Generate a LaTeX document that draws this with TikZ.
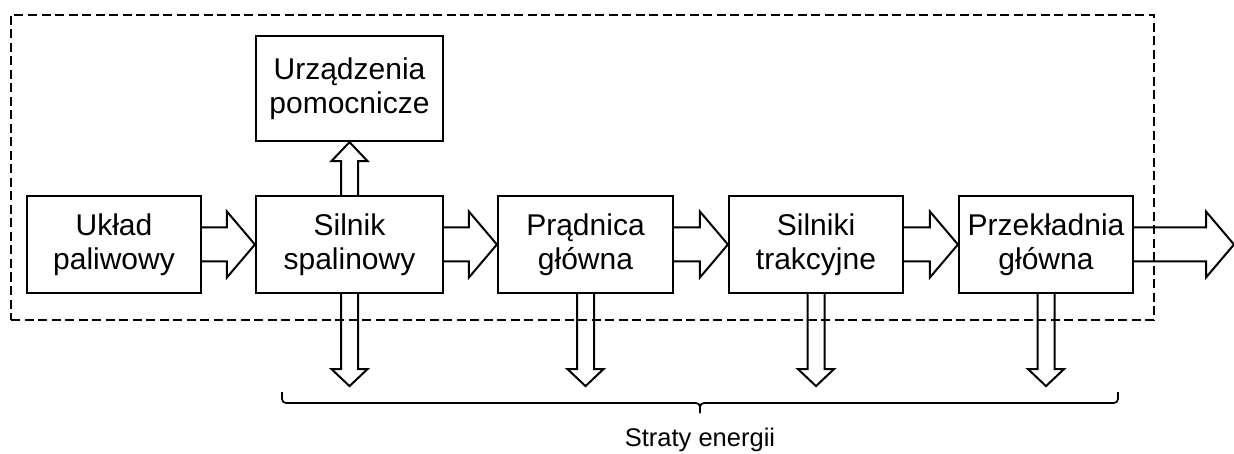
\documentclass[tikz,border=0pt]{standalone}
\usepackage{fontspec}
\setmainfont{Liberation Sans}
\usetikzlibrary{calc}

% hollow block arrows between blocks
\newcommand\rarrowblk[2]{%
  \draw[fat] let \p1=(#1.east), \p2=(#2) in
    (\x1,\y2+17) -- (\x2-28,\y2+17) -- (\x2-28,\y2+33) -- (\x2,\y2)
    -- (\x2-28,\y2-33) -- (\x2-28,\y2-17) -- (\x1,\y2-17);}
\newcommand\darrowblk[2]{%
  \draw[fat] let \p1=(#1.south), \p2=(#2) in
    (\x2-8.5,\y1) -- (\x2-8.5,\y2+17) -- (\x2-18,\y2+17) -- (\x2,\y2)
    -- (\x2+18,\y2+17) -- (\x2+8.5,\y2+17) -- (\x2+8.5,\y1);}
\newcommand\uarrowblk[2]{%
  \draw[fat] let \p1=(#1.north), \p2=(#2.south) in
    (\x1-8.5,\y1) -- (\x1-8.5,\y2-19) -- (\x1-18,\y2-19) -- (\x1,\y2)
    -- (\x1+18,\y2-19) -- (\x1+8.5,\y2-19) -- (\x1+8.5,\y1);}

\begin{document}
\begin{tikzpicture}[x=1pt,y=-1pt,
  block/.style={draw, line width=2.2pt, minimum height=97pt, align=center,
    inner sep=0pt, font=\fontsize{30}{34}\selectfont},
  fat/.style={draw, line width=2pt, line join=miter},
  frame/.style={draw, line width=2pt, dash pattern=on 9pt off 4.5pt,
    inner sep=0pt},
  bracket/.style={draw, line width=1.7pt, rounded corners=4pt},
]
\useasboundingbox (0,0) rectangle (1234,454);

% blocks
\node[block, minimum width=174pt] (fuel) at (114,244.5) {Układ\\paliwowy};
\node[block, minimum width=187pt] (engine) at (349.5,244.5) {Silnik\\spalinowy};
\node[block, minimum width=187pt, minimum height=105pt] (aux) at (349.5,88.5) {Urządzenia\\pomocnicze};
\node[block, minimum width=175pt] (gen) at (585.5,244.5) {Prądnica\\główna};
\node[block, minimum width=174pt] (motors) at (816,244.5) {Silniki\\trakcyjne};
\node[block, minimum width=174pt] (gear) at (1046,244.5) {Przekładnia\\główna};

% power flow
\coordinate (out) at (1234,244.5);
\rarrowblk{fuel}{fuel.east -| engine.west}
\rarrowblk{engine}{engine.east -| gen.west}
\rarrowblk{gen}{gen.east -| motors.west}
\rarrowblk{motors}{motors.east -| gear.west}
\rarrowblk{gear}{out}
\uarrowblk{engine}{aux}

% losses
\coordinate (loss1) at ($(engine.south)+(0,92)$);
\coordinate (loss2) at ($(gen.south)+(0,92)$);
\coordinate (loss3) at ($(motors.south)+(0,92)$);
\coordinate (loss4) at ($(gear.south)+(0,92)$);
\darrowblk{engine}{loss1}
\darrowblk{gen}{loss2}
\darrowblk{motors}{loss3}
\darrowblk{gear}{loss4}

% system boundary
\node[frame, minimum width=1143pt, minimum height=305pt] (system) at (582.5,167.5) {};

% bracket collecting the losses
\coordinate (bl) at (282,392);
\coordinate (br) at (1118,392);
\coordinate (bm) at (700,413);
\draw[bracket] (bl) -- (282,403) -- (700,403) -- (bm);
\draw[bracket] (bm) -- (700,403) -- (1118,403) -- (br);
\node[font=\fontsize{25.5}{30}\selectfont] (losses) at (700,440) {Straty energii};
\end{tikzpicture}
\end{document}
